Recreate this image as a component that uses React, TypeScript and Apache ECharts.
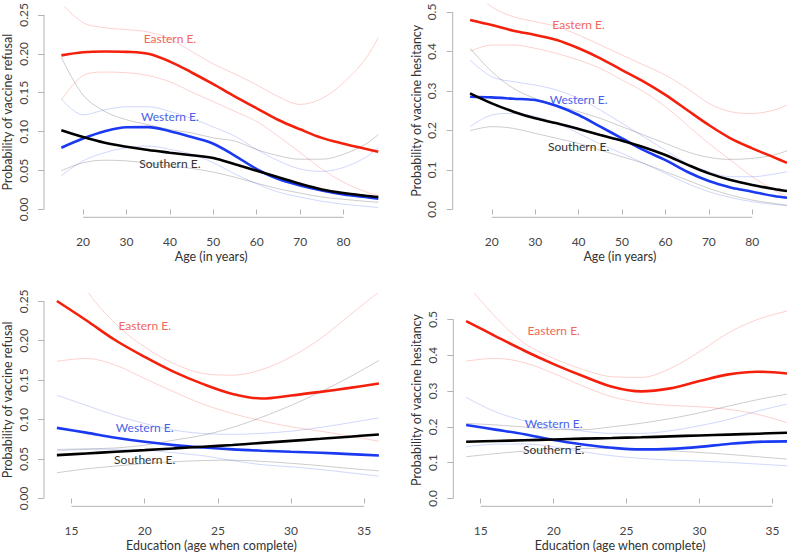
import React, { useEffect, useRef } from "react";
import * as echarts from "echarts";

// ---------- data ----------
const ages = [15, 20, 25, 30, 35, 40, 45, 50, 55, 60, 65, 70, 75, 80, 85, 88];
const ageTicks = [20, 30, 40, 50, 60, 70, 80];
const edus = [14, 16, 18, 20, 22, 24, 26, 28, 30, 32, 34, 36];
const eduTicks = [15, 20, 25, 30, 35];
const refusalTicks = [0, 0.05, 0.1, 0.15, 0.2, 0.25];
const hesitancyTicks = [0, 0.1, 0.2, 0.3, 0.4, 0.5];
const regionNames = ["Eastern E.", "Western E.", "Southern E."];

// Panel 1: refusal by age
const refAgeEast = [0.198, 0.202, 0.203, 0.2025, 0.2, 0.19, 0.176, 0.161, 0.145, 0.13, 0.115, 0.103, 0.092, 0.0845, 0.078, 0.0743];
const refAgeEastHi = [0.265, 0.24, 0.2335, 0.231, 0.228, 0.219, 0.203, 0.187, 0.174, 0.16, 0.145, 0.135, 0.1425, 0.163, 0.193, 0.221];
const refAgeEastLo = [0.1406, 0.172, 0.1765, 0.1757, 0.172, 0.164, 0.151, 0.1385, 0.126, 0.113, 0.094, 0.073, 0.052, 0.035, 0.023, 0.018];
const refAgeWest = [0.0794, 0.0912, 0.1005, 0.1056, 0.1058, 0.1005, 0.093, 0.0845, 0.069, 0.052, 0.039, 0.031, 0.0245, 0.0194, 0.016, 0.014];
const refAgeWestHi = [0.142, 0.1216, 0.128, 0.132, 0.132, 0.126, 0.117, 0.106, 0.094, 0.077, 0.0625, 0.052, 0.049, 0.054, 0.0667, 0.0794];
const refAgeWestLo = [0.0435, 0.0625, 0.073, 0.0794, 0.0815, 0.0773, 0.071, 0.06, 0.0456, 0.033, 0.0224, 0.016, 0.0106, 0.0068, 0.0042, 0.0025];
const refAgeSouth = [0.1018, 0.093, 0.0857, 0.0807, 0.0764, 0.073, 0.0697, 0.0662, 0.058, 0.0498, 0.0414, 0.033, 0.0258, 0.0211, 0.0177, 0.016];
const refAgeSouthHi = [0.1955, 0.147, 0.126, 0.1153, 0.109, 0.1026, 0.0984, 0.092, 0.0878, 0.077, 0.069, 0.0646, 0.0646, 0.071, 0.0836, 0.0963];
const refAgeSouthLo = [0.0498, 0.06, 0.0633, 0.0625, 0.0595, 0.056, 0.0528, 0.048, 0.0414, 0.0338, 0.0266, 0.0211, 0.016, 0.0131, 0.0106, 0.0093];
const refAgeLabelPos = [[40, 0.2196], [40, 0.1195], [40, 0.059]];

// Panel 2: hesitancy by age
const hesAgeEast = [0.48, 0.467, 0.4527, 0.4417, 0.429, 0.408, 0.3826, 0.353, 0.3235, 0.29, 0.2517, 0.2137, 0.18, 0.1546, 0.1318, 0.118];
const hesAgeEastHi = [0.56, 0.513, 0.488, 0.4755, 0.463, 0.4417, 0.4164, 0.391, 0.3657, 0.34, 0.3066, 0.2686, 0.2475, 0.243, 0.2517, 0.2644];
const hesAgeEastLo = [0.4, 0.4164, 0.4164, 0.408, 0.395, 0.378, 0.357, 0.3277, 0.298, 0.26, 0.2137, 0.167, 0.125, 0.0828, 0.049, 0.032];
const hesAgeWest = [0.2855, 0.2838, 0.2804, 0.277, 0.2618, 0.239, 0.2095, 0.18, 0.15, 0.125, 0.0954, 0.0718, 0.0557, 0.0448, 0.0338, 0.0296];
const hesAgeWestHi = [0.378, 0.336, 0.3235, 0.315, 0.302, 0.281, 0.2517, 0.218, 0.184, 0.15, 0.1166, 0.0954, 0.0828, 0.0828, 0.0895, 0.0954];
const hesAgeWestLo = [0.2095, 0.239, 0.2432, 0.235, 0.218, 0.1926, 0.1655, 0.142, 0.1166, 0.0912, 0.0659, 0.0448, 0.0304, 0.0194, 0.0127, 0.0093];
const hesAgeSouth = [0.294, 0.2686, 0.2475, 0.2306, 0.218, 0.2035, 0.1883, 0.174, 0.1575, 0.1377, 0.1135, 0.0912, 0.0743, 0.0617, 0.0515, 0.0465];
const hesAgeSouthHi = [0.408, 0.349, 0.3066, 0.281, 0.2644, 0.2475, 0.2306, 0.2095, 0.1883, 0.1672, 0.146, 0.1318, 0.1267, 0.1292, 0.1377, 0.1486];
const hesAgeSouthLo = [0.1993, 0.2095, 0.2052, 0.1926, 0.18, 0.1672, 0.1503, 0.1334, 0.1166, 0.0954, 0.0743, 0.0532, 0.0363, 0.0236, 0.0152, 0.011];
const hesAgeLabelPos = [[40, 0.469], [40, 0.279], [40, 0.159]];

// Panel 3: refusal by education
const refEduEast = [0.2504, 0.226, 0.2006, 0.1795, 0.1605, 0.1449, 0.1325, 0.1267, 0.1305, 0.1351, 0.1402, 0.1457];
const refEduEastHi = [0.335, 0.265, 0.2217, 0.192, 0.171, 0.1584, 0.1563, 0.1634, 0.1795, 0.2027, 0.2323, 0.262];
const refEduEastLo = [0.174, 0.1774, 0.169, 0.152, 0.1351, 0.1195, 0.1077, 0.0984, 0.0908, 0.0853, 0.079, 0.0726];
const refEduWest = [0.0895, 0.0834, 0.077, 0.0718, 0.0676, 0.0646, 0.0622, 0.0605, 0.0591, 0.0579, 0.0562, 0.0545];
const refEduWestHi = [0.1309, 0.118, 0.1055, 0.095, 0.0866, 0.0823, 0.0812, 0.0825, 0.0853, 0.09, 0.0959, 0.1022];
const refEduWestLo = [0.0604, 0.062, 0.0623, 0.0612, 0.0579, 0.0541, 0.048, 0.0428, 0.0401, 0.0367, 0.0325, 0.0283];
const refEduSouth = [0.0549, 0.057, 0.0591, 0.0612, 0.0634, 0.0656, 0.0678, 0.0704, 0.073, 0.0756, 0.0783, 0.0811];
const refEduSouthHi = [0.0621, 0.0629, 0.064, 0.0676, 0.0739, 0.0802, 0.09, 0.103, 0.118, 0.135, 0.154, 0.175];
const refEduSouthLo = [0.0325, 0.0375, 0.041, 0.0443, 0.0465, 0.048, 0.0485, 0.047, 0.0445, 0.0415, 0.038, 0.035];
const refEduLabelPos = [[20, 0.2196], [20, 0.0895], [20, 0.0494]];

// Panel 4: hesitancy by education
const hesEduEast = [0.4953, 0.4534, 0.4125, 0.3752, 0.3417, 0.3119, 0.2989, 0.3073, 0.3277, 0.3464, 0.3538, 0.349];
const hesEduEastHi = [0.6, 0.5075, 0.433, 0.391, 0.3603, 0.3398, 0.338, 0.3631, 0.4097, 0.4628, 0.5, 0.5233];
const hesEduEastLo = [0.3836, 0.391, 0.379, 0.349, 0.3138, 0.284, 0.2672, 0.2598, 0.256, 0.2486, 0.2346, 0.2114];
const hesEduWest = [0.2048, 0.1922, 0.1793, 0.163, 0.1508, 0.1415, 0.1369, 0.1385, 0.144, 0.1522, 0.158, 0.1592];
const hesEduWestHi = [0.2821, 0.2421, 0.217, 0.2002, 0.1881, 0.1816, 0.1816, 0.189, 0.203, 0.2207, 0.244, 0.2635];
const hesEduWestLo = [0.1443, 0.1515, 0.152, 0.1443, 0.1304, 0.1192, 0.1117, 0.1071, 0.1043, 0.1006, 0.0959, 0.0912];
const hesEduSouth = [0.1583, 0.1603, 0.1624, 0.1646, 0.1669, 0.1687, 0.1707, 0.1733, 0.1758, 0.1783, 0.1808, 0.1834];
const hesEduSouthHi = [0.2095, 0.2053, 0.1993, 0.193, 0.192, 0.2, 0.21, 0.223, 0.239, 0.258, 0.276, 0.2914];
const hesEduSouthLo = [0.1164, 0.125, 0.132, 0.1369, 0.1397, 0.1397, 0.1378, 0.1331, 0.1285, 0.1229, 0.1164, 0.1099];
const hesEduLabelPos = [[20, 0.47], [20, 0.2095], [20, 0.1369]];

// ---------- styling ----------
const FONT = "Lato, 'Open Sans', sans-serif";
const RED = "#f5200c";
const BLUE = "#1a3af2";
const BLACK = "#000000";
const BAND = ["rgba(245,32,12,0.2)", "rgba(26,58,242,0.2)", "rgba(0,0,0,0.2)"];
const LABEL_COLORS = ["#f0675c", "#4a62e8", "#333333"];
const AXIS_COLOR = "#b3b3b3";

type Panel = {
  grid: { left: number; top: number; width: number; height: number };
  x: number[];
  xMin: number;
  xMax: number;
  yMin: number;
  yMax: number;
  xTicks: number[];
  yTicks: number[];
  decimals: number;
  xName: string;
  yName: string;
  mains: number[][];
  his: number[][];
  los: number[][];
  labelPos: number[][];
};

const panels: Panel[] = [
  {
    grid: { left: 43.3, top: 4.1, width: 335, height: 213.2 },
    x: ages, xMin: 11, xMax: 88, yMin: -0.01, yMax: 0.26,
    xTicks: ageTicks, yTicks: refusalTicks, decimals: 2,
    xName: "Age (in years)", yName: "Probability of vaccine refusal",
    mains: [refAgeEast, refAgeWest, refAgeSouth],
    his: [refAgeEastHi, refAgeWestHi, refAgeSouthHi],
    los: [refAgeEastLo, refAgeWestLo, refAgeSouthLo],
    labelPos: refAgeLabelPos,
  },
  {
    grid: { left: 452.7, top: 4.1, width: 334.4, height: 213.2 },
    x: ages, xMin: 11, xMax: 88, yMin: -0.02, yMax: 0.52,
    xTicks: ageTicks, yTicks: hesitancyTicks, decimals: 1,
    xName: "Age (in years)", yName: "Probability of vaccine hesitancy",
    mains: [hesAgeEast, hesAgeWest, hesAgeSouth],
    his: [hesAgeEastHi, hesAgeWestHi, hesAgeSouthHi],
    los: [hesAgeEastLo, hesAgeWestLo, hesAgeSouthLo],
    labelPos: hesAgeLabelPos,
  },
  {
    grid: { left: 43.3, top: 293.4, width: 335.6, height: 212.9 },
    x: edus, xMin: 13.12, xMax: 36, yMin: -0.01, yMax: 0.26,
    xTicks: eduTicks, yTicks: refusalTicks, decimals: 2,
    xName: "Education (age when complete)", yName: "Probability of vaccine refusal",
    mains: [refEduEast, refEduWest, refEduSouth],
    his: [refEduEastHi, refEduWestHi, refEduSouthHi],
    los: [refEduEastLo, refEduWestLo, refEduSouthLo],
    labelPos: refEduLabelPos,
  },
  {
    grid: { left: 453.3, top: 293.6, width: 335.9, height: 212.7 },
    x: edus, xMin: 13.12, xMax: 36, yMin: -0.022, yMax: 0.572,
    xTicks: eduTicks, yTicks: hesitancyTicks, decimals: 1,
    xName: "Education (age when complete)", yName: "Probability of vaccine hesitancy",
    mains: [hesEduEast, hesEduWest, hesEduSouth],
    his: [hesEduEastHi, hesEduWestHi, hesEduSouthHi],
    los: [hesEduEastLo, hesEduWestLo, hesEduSouthLo],
    labelPos: hesEduLabelPos,
  },
];

const zip = (xs: number[], ys: number[]) => xs.map((x, i) => [x, ys[i]]);

function buildOption() {
  const grid: any[] = [];
  const xAxis: any[] = [];
  const yAxis: any[] = [];
  const series: any[] = [];
  const mainColors = [RED, BLUE, BLACK];

  panels.forEach((p, i) => {
    grid.push({ ...p.grid, containLabel: false });
    xAxis.push({
      type: "value",
      gridIndex: i,
      min: p.xMin,
      max: p.xMax,
      axisLine: { show: false },
      splitLine: { show: false },
      axisTick: { show: true, length: 5, customValues: p.xTicks, lineStyle: { color: AXIS_COLOR } },
      axisLabel: {
        customValues: p.xTicks,
        margin: 18,
        color: "#444",
        fontFamily: FONT,
        fontSize: 12,
      },
      name: p.xName,
      nameLocation: "middle",
      nameGap: 33,
      nameTextStyle: { color: "#333", fontFamily: FONT, fontSize: 12.5 },
    });
    yAxis.push({
      type: "value",
      gridIndex: i,
      min: p.yMin,
      max: p.yMax,
      axisLine: { show: false },
      splitLine: { show: false },
      axisTick: { show: true, length: 6, customValues: p.yTicks, lineStyle: { color: AXIS_COLOR } },
      axisLabel: {
        customValues: p.yTicks,
        rotate: 90,
        margin: 15,
        color: "#444",
        fontFamily: FONT,
        fontSize: 12,
        formatter: (v: number) => v.toFixed(p.decimals),
      },
      name: p.yName,
      nameLocation: "middle",
      nameGap: 30,
      nameTextStyle: { color: "#333", fontFamily: FONT, fontSize: 12.5 },
    });

    // axis lines spanning first..last tick (R style)
    const xt = p.xTicks;
    const yt = p.yTicks;
    series.push({
      type: "custom",
      xAxisIndex: i,
      yAxisIndex: i,
      silent: true,
      clip: false,
      data: [[xt[0], yt[0]]],
      renderItem: (_params: any, api: any) => {
        const a = api.coord([xt[0], p.yMin]);
        const b = api.coord([xt[xt.length - 1], p.yMin]);
        const c = api.coord([p.xMin, yt[0]]);
        const d = api.coord([p.xMin, yt[yt.length - 1]]);
        return {
          type: "group",
          children: [
            { type: "line", shape: { x1: a[0], y1: a[1], x2: b[0], y2: b[1] }, style: { stroke: AXIS_COLOR, lineWidth: 1 } },
            { type: "line", shape: { x1: c[0], y1: c[1], x2: d[0], y2: d[1] }, style: { stroke: AXIS_COLOR, lineWidth: 1 } },
          ],
        };
      },
    });

    // confidence bands
    [0, 1, 2].forEach((k) => {
      [p.his[k], p.los[k]].forEach((arr) => {
        series.push({
          type: "line",
          xAxisIndex: i,
          yAxisIndex: i,
          data: zip(p.x, arr),
          smooth: 0.35,
          showSymbol: false,
          symbol: "none",
          silent: true,
          z: 2,
          lineStyle: { color: BAND[k], width: 1 },
        });
      });
    });

    // main estimates
    [0, 1, 2].forEach((k) => {
      series.push({
        type: "line",
        xAxisIndex: i,
        yAxisIndex: i,
        data: zip(p.x, p.mains[k]),
        smooth: 0.35,
        showSymbol: false,
        symbol: "none",
        silent: true,
        z: 3,
        lineStyle: { color: mainColors[k], width: 2.6 },
      });
    });

    // region labels
    series.push({
      type: "custom",
      xAxisIndex: i,
      yAxisIndex: i,
      silent: true,
      clip: false,
      z: 4,
      data: p.labelPos,
      renderItem: (params: any, api: any) => {
        const pt = api.coord([api.value(0), api.value(1)]);
        return {
          type: "text",
          x: pt[0],
          y: pt[1],
          style: {
            text: regionNames[params.dataIndex],
            fill: LABEL_COLORS[params.dataIndex],
            fontFamily: FONT,
            fontSize: 12,
            align: "center",
            verticalAlign: "middle",
          },
        };
      },
    });
  });

  return {
    animation: false,
    backgroundColor: "#ffffff",
    grid,
    xAxis,
    yAxis,
    series,
  };
}

export default function App() {
  const ref = useRef<HTMLDivElement>(null);
  useEffect(() => {
    if (!ref.current) return;
    const chart = echarts.init(ref.current, undefined, { renderer: "svg" });
    chart.setOption(buildOption() as any);
    return () => chart.dispose();
  }, []);
  return (
    <div
      ref={ref}
      style={{ position: "fixed", left: 0, top: 0, width: 787, height: 554, background: "#fff" }}
    />
  );
}
